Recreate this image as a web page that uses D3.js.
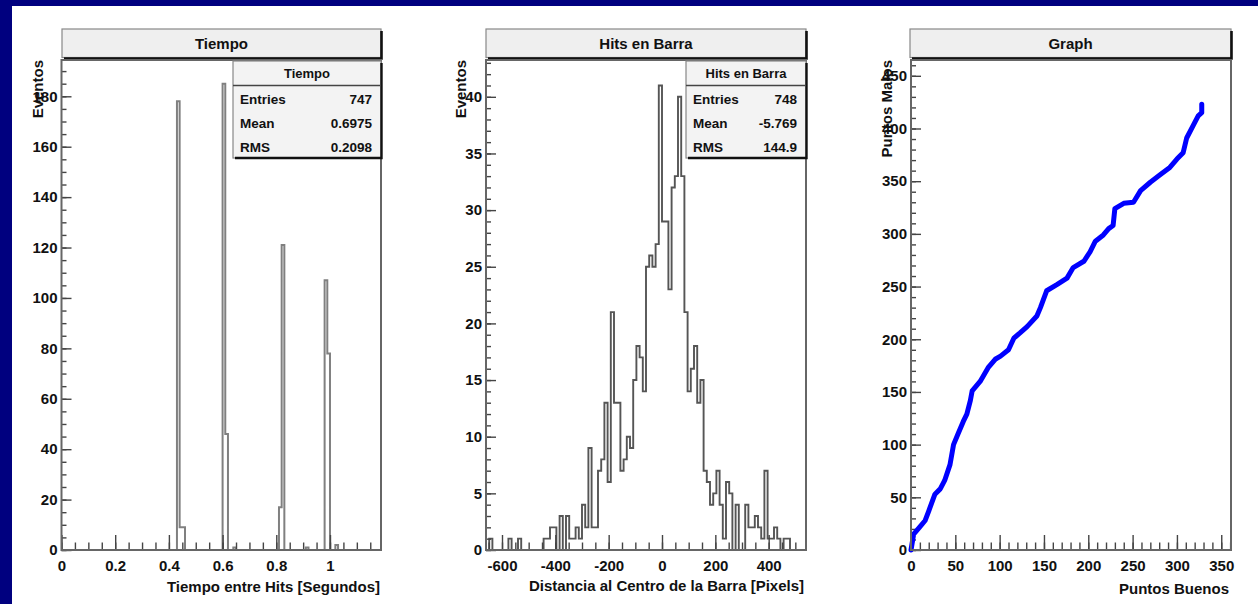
<!DOCTYPE html>
<html>
<head>
<meta charset="utf-8">
<script src="https://cdn.jsdelivr.net/npm/d3@7"></script>
<style>
  html, body { margin: 0; padding: 0; background: #00007f; }
  svg { display: block; }
  text { font-family: "Liberation Sans", Arial, Helvetica, sans-serif; font-weight: bold; }
</style>
</head>
<body>
<div id="chart"></div>
<script>
// ---- Tiempo histogram (bins of 0.01 starting at 0, only non-empty bins listed)
const tiempoBinWidth = 0.01;
const tiempoNBins = 119;
const tiempoBins   = [0.43, 0.44, 0.45, 0.60, 0.61, 0.64, 0.81, 0.82, 0.91, 0.98, 0.99, 1.02];
const tiempoCounts = [178,  9,    9,    185,  46,   1,    17,   121,  1,    107,  78,   2];
const tiempoXTicks = [0, 0.2, 0.4, 0.6, 0.8, 1];
const tiempoYTicks = [0, 20, 40, 60, 80, 100, 120, 140, 160, 180];
const tiempoStats  = ["747", "0.6975", "0.2098"];

// ---- Hits en Barra histogram (100 bins of 12 px from -660)
const hitsBinStart = -660;
const hitsBinWidth = 12;
const hitsCounts = [
  0, 1, 0, 0, 0, 0, 0, 1, 0, 0,
  1, 0, 0, 0, 0, 0, 0, 0, 1, 1,
  2, 2, 0, 3, 0, 3, 1, 1, 2, 1,
  4, 2, 9, 2, 2, 7, 8, 13, 6, 21,
  13, 13, 7, 8, 10, 9, 15, 18, 17, 14,
  25, 26, 25, 27, 41, 29, 29, 23, 32, 33,
  40, 33, 21, 14, 16, 18, 13, 15, 7, 6,
  4, 5, 7, 4, 1, 6, 5, 0, 4, 0,
  0, 4, 2, 2, 3, 2, 1, 7, 1, 1,
  2, 1, 0, 1, 1, 0, 0, 0, 0, 0
];
const hitsXTicks = [-600, -400, -200, 0, 200, 400];
const hitsYTicks = [0, 5, 10, 15, 20, 25, 30, 35, 40];
const hitsStats  = ["748", "-5.769", "144.9"];

// ---- Graph: Puntos Buenos vs Puntos Malos
const graphX = [0, 3, 10, 16, 20, 27, 33, 38, 44, 48, 53, 59, 63, 67, 69, 78, 87, 95, 101, 110,
  116, 123, 131, 142, 146, 153, 165, 176, 183, 195, 202, 208, 217, 223, 228, 230, 240, 251,
  259, 270, 281, 292, 300, 307, 311, 319, 324, 328, 328];
const graphY = [0, 15, 22, 28, 37, 53, 58, 66, 81, 100, 110, 122, 129, 142, 151, 160, 173, 181, 184, 190,
  201, 206, 212, 222, 230, 246, 252, 258, 268, 274, 283, 293, 299, 305, 308, 324, 329, 330,
  341, 349, 356, 363, 371, 377, 391, 404, 412, 415, 423];
const graphXTicks = [0, 50, 100, 150, 200, 250, 300, 350];
const graphYTicks = [0, 50, 100, 150, 200, 250, 300, 350, 400, 450];

const statsLabels = ["Entries", "Mean", "RMS"];

const width = 1258, height = 604;
const frameTop = 60, frameBottom = 550;

const svg = d3.select("#chart").append("svg")
    .attr("width", width)
    .attr("height", height)

svg.append("rect").attr("width", width).attr("height", height).attr("fill", "#00007f")
svg.append("rect")
    .attr("x", 12).attr("y", 6)
    .attr("width", width - 12).attr("height", height - 6)
    .attr("fill", "#ffffff")

function styleAxis(sel) {
    sel.select(".domain").remove()
    sel.selectAll("line").attr("stroke", "#444").attr("stroke-width", 1.4)
    sel.selectAll("text")
        .attr("fill", "#111")
        .style("font-size", "15px")
        .style("font-weight", "bold")
}

function drawAxes(x, y, xMajor, xMinor, yMajor, yMinor) {
    const base = y.range()[0]
    const left = x.range()[0]
    svg.append("g").attr("transform", `translate(0,${base})`)
        .call(d3.axisBottom(x).tickValues(xMinor).tickSize(-7.5).tickFormat(""))
        .call(styleAxis)
    svg.append("g").attr("transform", `translate(0,${base})`)
        .call(d3.axisBottom(x).tickValues(xMajor).tickSize(-15).tickPadding(10.5).tickFormat(d => String(d)))
        .call(styleAxis)
    svg.append("g").attr("transform", `translate(${left},0)`)
        .call(d3.axisLeft(y).tickValues(yMinor).tickSize(-5).tickFormat(""))
        .call(styleAxis)
    svg.append("g").attr("transform", `translate(${left},0)`)
        .call(d3.axisLeft(y).tickValues(yMajor).tickSize(-10).tickPadding(4).tickFormat(d => String(d)))
        .call(styleAxis)
}

function drawFrame(x, y) {
    const [x0, x1] = x.range()
    svg.append("rect")
        .attr("x", x0).attr("y", y.range()[1])
        .attr("width", x1 - x0).attr("height", y.range()[0] - y.range()[1])
        .attr("fill", "none").attr("stroke", "#666").attr("stroke-width", 2)
}

function drawTitleBox(x0, x1, label) {
    svg.append("rect")
        .attr("x", x0).attr("y", 29).attr("width", x1 - x0).attr("height", 28.5)
        .attr("fill", "#efefef").attr("stroke", "#888").attr("stroke-width", 1.2)
    svg.append("path")
        .attr("d", `M${x0 + 2},58.5 H${x1 + 0.5} V31`)
        .attr("fill", "none").attr("stroke", "#111").attr("stroke-width", 2.6)
    svg.append("text")
        .attr("x", (x0 + x1) / 2).attr("y", 49)
        .attr("text-anchor", "middle")
        .style("font-size", "15px").attr("fill", "#111")
        .text(label)
}

function drawStats(x0, x1, header, values) {
    const y0 = 61, y1 = 158
    svg.append("rect")
        .attr("x", x0).attr("y", y0).attr("width", x1 - x0).attr("height", y1 - y0)
        .attr("fill", "#f3f3f3").attr("stroke", "#888").attr("stroke-width", 1.2)
    svg.append("path")
        .attr("d", `M${x0 + 2},${y1} H${x1 + 0.5} V${y0 + 2}`)
        .attr("fill", "none").attr("stroke", "#111").attr("stroke-width", 2.4)
    svg.append("line")
        .attr("x1", x0).attr("x2", x1).attr("y1", 85.5).attr("y2", 85.5)
        .attr("stroke", "#444").attr("stroke-width", 1.4)
    svg.append("text")
        .attr("x", (x0 + x1) / 2).attr("y", 78)
        .attr("text-anchor", "middle").style("font-size", "13px").attr("fill", "#111")
        .text(header)
    const rowY = [103.5, 128, 152]
    statsLabels.forEach((lab, i) => {
        svg.append("text").attr("x", x0 + 7).attr("y", rowY[i])
            .style("font-size", "13.5px").attr("fill", "#111").text(lab)
        svg.append("text").attr("x", x1 - 9).attr("y", rowY[i])
            .attr("text-anchor", "end")
            .style("font-size", "13.5px").attr("fill", "#111").text(values[i])
    })
}

function yTitle(xPos, label) {
    svg.append("text")
        .attr("transform", `translate(${xPos},${frameTop}) rotate(-90)`)
        .attr("text-anchor", "end")
        .style("font-size", "15px").attr("fill", "#111")
        .text(label)
}

function xTitle(xPos, yPos, label) {
    svg.append("text")
        .attr("x", xPos).attr("y", yPos)
        .attr("text-anchor", "end")
        .style("font-size", "15px").attr("fill", "#111")
        .text(label)
}

// step outline of a histogram, drawn through the scales
function histPath(x, y, start, binW, counts) {
    const pts = [[start, 0]]
    counts.forEach((c, i) => pts.push([start + i * binW, c]))
    pts.push([start + counts.length * binW, 0])
    return d3.line()
        .x(d => x(d[0]))
        .y(d => y(d[1]))
        .curve(d3.curveStepAfter)(pts)
}

// ---------------- Panel 1: Tiempo
{
    const x = d3.scaleLinear().domain([0, 1.19]).range([61.5, 381])
    const y = d3.scaleLinear().domain([0, 194.4]).range([frameBottom, frameTop])
    const full = new Array(tiempoNBins).fill(0)
    tiempoBins.forEach((b, i) => { full[Math.round(b / tiempoBinWidth)] = tiempoCounts[i] })

    drawTitleBox(62, 381, "Tiempo")
    svg.append("path")
        .attr("d", histPath(x, y, 0, tiempoBinWidth, full))
        .attr("fill", "none").attr("stroke", "#808080").attr("stroke-width", 2)
    drawAxes(x, y, tiempoXTicks, d3.range(0, 1.18, 0.05), tiempoYTicks, d3.range(0, 194, 5))
    drawFrame(x, y)
    drawStats(233, 381, "Tiempo", tiempoStats)
    yTitle(43, "Eventos")
    xTitle(380, 592, "Tiempo entre Hits [Segundos]")
}

// ---------------- Panel 2: Hits en Barra
{
    const x = d3.scaleLinear().domain([-660, 540]).range([486, 806])
    const y = d3.scaleLinear().domain([0, 43.25]).range([frameBottom, frameTop])

    drawTitleBox(486, 806, "Hits en Barra")
    svg.append("path")
        .attr("d", histPath(x, y, hitsBinStart, hitsBinWidth, hitsCounts))
        .attr("fill", "none").attr("stroke", "#555").attr("stroke-width", 1.9)
    drawAxes(x, y, hitsXTicks, d3.range(-650, 540, 50), hitsYTicks, d3.range(0, 43.2, 1))
    drawFrame(x, y)
    drawStats(686, 806, "Hits en Barra", hitsStats)
    yTitle(466, "Eventos")
    xTitle(804, 591, "Distancia al Centro de la Barra [Pixels]")
}

// ---------------- Panel 3: Graph
{
    const x = d3.scaleLinear().domain([0, 361]).range([911, 1231])
    const y = d3.scaleLinear().domain([0, 465]).range([frameBottom, frameTop])

    drawTitleBox(910, 1231, "Graph")
    drawAxes(x, y, graphXTicks, d3.range(0, 361, 10), graphYTicks, d3.range(0, 465, 10))
    svg.append("path")
        .datum(graphX.map((v, i) => [v, graphY[i]]))
        .attr("d", d3.line().x(d => x(d[0])).y(d => y(d[1])))
        .attr("fill", "none").attr("stroke", "#0000ff")
        .attr("stroke-width", 5)
        .attr("stroke-linejoin", "round").attr("stroke-linecap", "round")
    drawFrame(x, y)
    yTitle(892, "Puntos Malos")
    xTitle(1229, 594, "Puntos Buenos")
}
</script>
</body>
</html>
